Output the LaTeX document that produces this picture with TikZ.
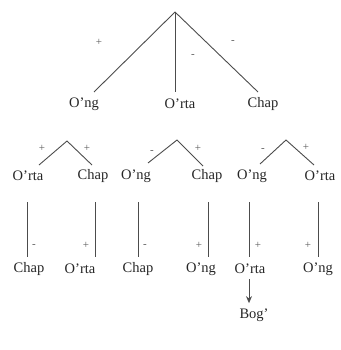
\documentclass[tikz,border=0pt]{standalone}
\usepackage{fontspec}
\setmainfont{Liberation Serif}
\usetikzlibrary{arrows.meta}

\begin{document}
\begin{tikzpicture}[x=1pt,y=-1pt,line width=0.9pt,>={Stealth[length=7pt,width=6pt]},
	word/.style={font=\fontsize{14.5}{16}\selectfont,inner sep=0pt,text=black!85},
	sign/.style={font=\fontsize{11}{12}\selectfont,inner sep=0pt,text=black!65},
	branch/.style={draw=black!70}]

	\useasboundingbox (0,0) rectangle (340,350);

	%top fork
	\coordinate (top) at (175,12);
	\coordinate (t1) at (94,92);
	\coordinate (t2) at (175,92);
	\coordinate (t3) at (258,92);
	\node[word] (ong) at (84,104) {O'ng};
	\node[word] (orta) at (180,104) {O'rta};
	\node[word] (chap) at (263,104) {Chap};
	\draw[branch] (top) -- (t1);
	\draw[branch] (top) -- (t2);
	\draw[branch] (top) -- (t3);
	\node[sign] at (99,42) {+};
	\node[sign] at (193,56) {-};
	\node[sign] at (233,42) {-};

	%second forks
	\coordinate (f1) at (67,141);
	\coordinate (f1a) at (39,165);
	\coordinate (f1b) at (92,165);
	\coordinate (f2) at (177,140);
	\coordinate (f2a) at (148,163);
	\coordinate (f2b) at (203,166);
	\coordinate (f3) at (286,140);
	\coordinate (f3a) at (260,164);
	\coordinate (f3b) at (314,165);
	\draw[branch] (f1a) -- (f1) -- (f1b);
	\draw[branch] (f2a) -- (f2) -- (f2b);
	\draw[branch] (f3a) -- (f3) -- (f3b);
	\node[sign] at (42,148) {+};
	\node[sign] at (87,148) {+};
	\node[sign] at (152,152) {-};
	\node[sign] at (198,148) {+};
	\node[sign] at (263,150) {-};
	\node[sign] at (306,147) {+};
	\node[word] (orta1) at (28,176) {O'rta};
	\node[word] (chap1) at (93,176) {Chap};
	\node[word] (ong2) at (136,176) {O'ng};
	\node[word] (chap2) at (207,176) {Chap};
	\node[word] (ong3) at (252,176) {O'ng};
	\node[word] (orta3) at (320,176) {O'rta};

	%stems
	\coordinate (s1) at (27,202);
	\coordinate (s2) at (95,202);
	\coordinate (s3) at (138,202);
	\coordinate (s4) at (208,202);
	\coordinate (s5) at (249,202);
	\coordinate (s6) at (318,202);
	\foreach \s in {1,...,6}
		\draw[branch] (s\s) -- ++(0,55);
	\node[sign] at (34,246) {-};
	\node[sign] at (86,245) {+};
	\node[sign] at (145,246) {-};
	\node[sign] at (199,245) {+};
	\node[sign] at (258,245) {+};
	\node[sign] at (308,245) {+};
	\node[word] (chap4) at (29,269) {Chap};
	\node[word] (orta4) at (80,269) {O'rta};
	\node[word] (chap5) at (138,269) {Chap};
	\node[word] (ong5) at (201,269) {O'ng};
	\node[word] (orta6) at (250,269) {O'rta};
	\node[word] (ong6) at (318,269) {O'ng};

	%result
	\node[word] (bog) at (254,315) {Bog'};
	\coordinate (r1) at (orta6.south -| s5);
	\coordinate (r2) at (bog.north -| s5);
	\draw[branch,->,shorten <=5pt,shorten >=5pt] (r1) -- (r2);

\end{tikzpicture}
\end{document}
